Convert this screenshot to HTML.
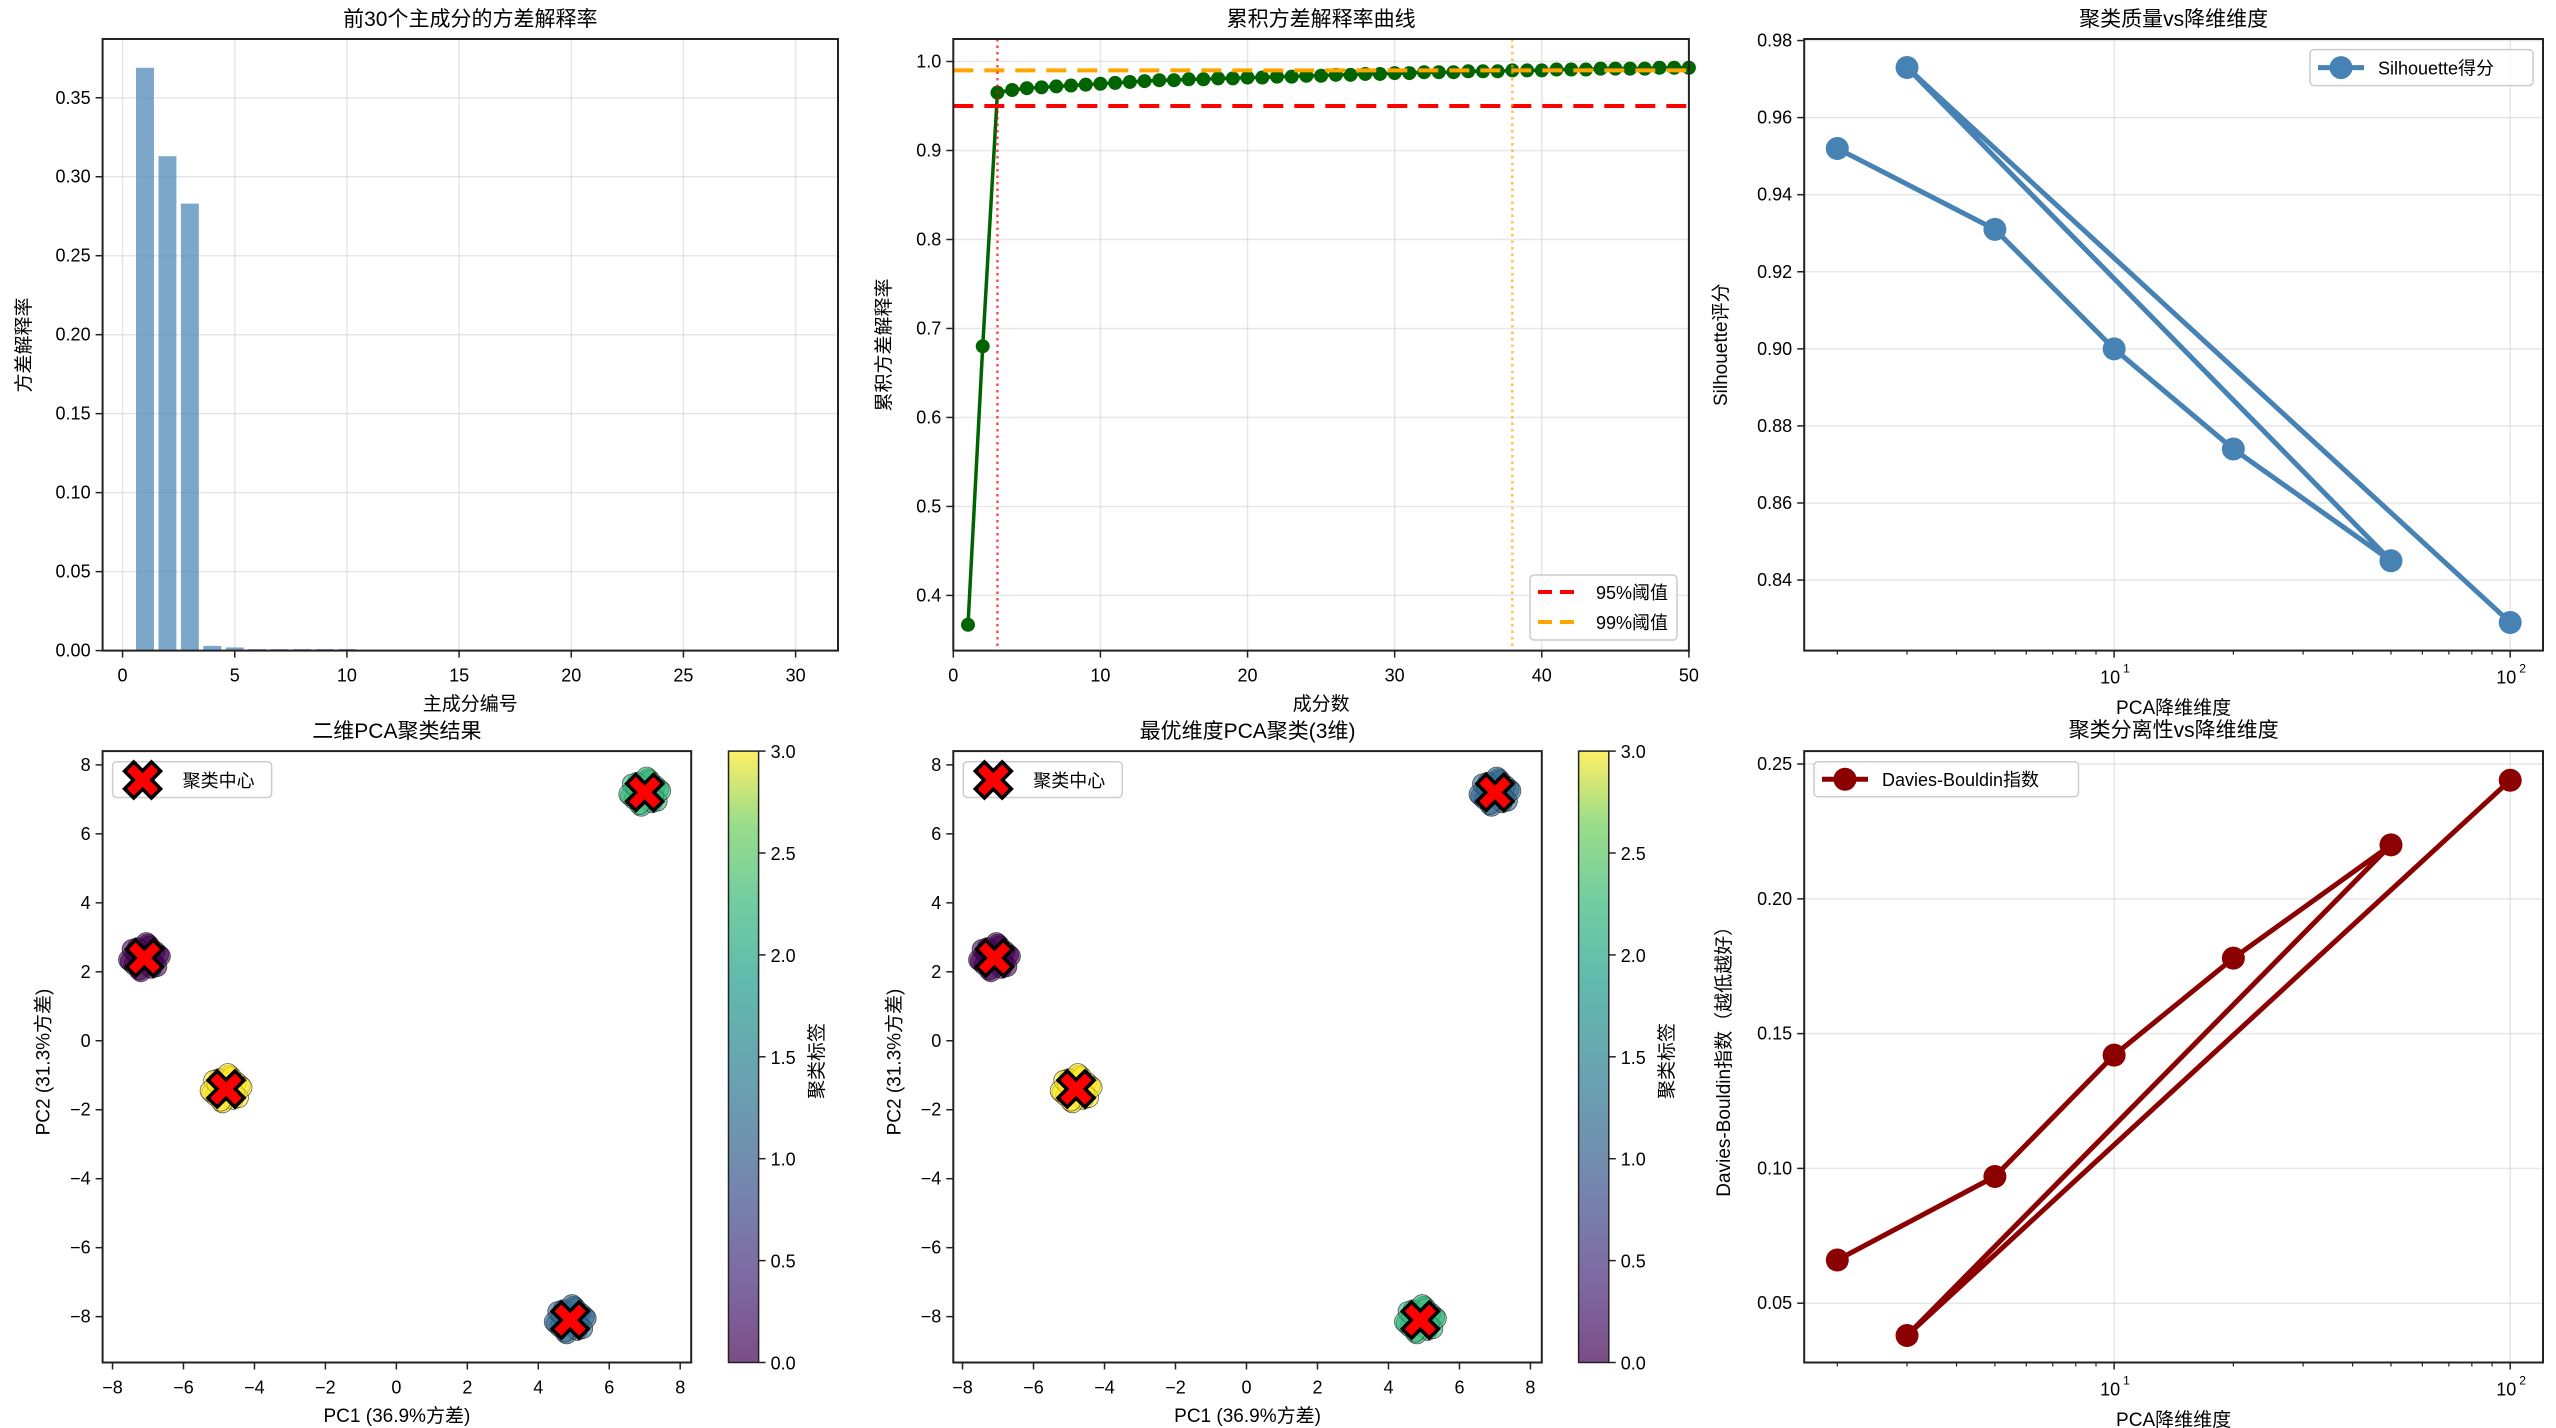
<!DOCTYPE html>
<html><head><meta charset="utf-8">
<style>
html,body{margin:0;padding:0;background:#fff;}
svg{display:block;font-family:"Liberation Sans","Noto Sans CJK SC",sans-serif;}
</style></head>
<body>
<svg id="fig" xmlns="http://www.w3.org/2000/svg" width="2556" height="1428" viewBox="0 0 2556 1428">
<defs>
<linearGradient id="viridis" x1="0" y1="1" x2="0" y2="0">
<stop offset="0" stop-color="#440154"/><stop offset="0.13" stop-color="#482878"/><stop offset="0.25" stop-color="#3e4989"/><stop offset="0.38" stop-color="#31688e"/><stop offset="0.5" stop-color="#26828e"/><stop offset="0.63" stop-color="#1f9e89"/><stop offset="0.75" stop-color="#35b779"/><stop offset="0.88" stop-color="#6ece58"/><stop offset="1" stop-color="#fde725"/>
</linearGradient>
</defs>
</svg>
<script>
// ---------- data ----------
const pcIndex = [1,2,3,4,5,6,7,8,9,10,11,12,13,14,15,16,17,18,19,20,21,22,23,24,25,26,27,28,29,30];
const varRatio = [0.369,0.313,0.283,0.003,0.002,0.001,0.001,0.001,0.001,0.001,0.0002,0.0002,0.0001,0.0001,0.0001,0.0001,0.0001,0.0001,0.0001,0.0001,0.0001,0.0001,0.0001,0.0001,0.0001,0.0001,0.0001,0.0001,0.0001,0.0001];
const cumVar = [0.367,0.680,0.965,0.968,0.970,0.971,0.972,0.973,0.974,0.975,0.976,0.977,0.978,0.979,0.979,0.980,0.980,0.981,0.981,0.982,0.982,0.983,0.983,0.984,0.984,0.985,0.985,0.986,0.986,0.987,0.987,0.988,0.988,0.988,0.989,0.989,0.989,0.990,0.990,0.990,0.991,0.991,0.991,0.992,0.992,0.992,0.992,0.993,0.993,0.993];
const thr95 = 0.95, thr99 = 0.99, n95 = 3, n99 = 38;
const dims = [2,5,10,20,50,3,100];
const silhouette = [0.952,0.931,0.900,0.874,0.845,0.973,0.829];
const dbIndex = [0.066,0.097,0.142,0.178,0.220,0.038,0.244];
const centers2d_x = [-7.1,4.9,7.0,-4.8];
const centers2d_y = [2.4,-8.1,7.2,-1.4];
const centers3d_x = [-7.1,7.0,4.9,-4.8];
const centers3d_y = [2.4,7.2,-8.1,-1.4];
const jitterX = [0.0,0.3,-0.3,0.2,-0.2,0.4,-0.4,0.1,-0.1,0.35,-0.35,0.15,-0.25,0.25,-0.15,0.45,-0.45,0.05];
const jitterY = [0.0,0.2,-0.2,-0.3,0.3,0.1,-0.1,0.4,-0.4,-0.25,0.25,0.35,0.15,-0.15,-0.35,0.05,-0.05,0.45];
const viridisCols = ['#440154','#31688e','#35b779','#fde725'];
const cbTicks = [0,0.5,1.0,1.5,2.0,2.5,3.0];

// ---------- helpers ----------
const NS='http://www.w3.org/2000/svg';
const fig=document.getElementById('fig');
function mk(tag,attrs,parent){const e=document.createElementNS(NS,tag);for(const k in attrs)e.setAttribute(k,attrs[k]);(parent||fig).appendChild(e);return e;}
function txt(s,x,y,size,anchor,parent,extra){const t=mk('text',Object.assign({x:x,y:y,'font-size':size,'text-anchor':anchor||'middle',fill:'#000'},extra||{}),parent);t.textContent=s;return t;}
function lin(a,b,p,q){return v=>p+(v-a)/(b-a)*(q-p);}
function logs(a,b,p,q){return v=>p+(Math.log10(v)-Math.log10(a))/(Math.log10(b)-Math.log10(a))*(q-p);}
function frame(L,T,R,B){const r=mk('rect',{x:L,y:T,width:R-L,height:B-T,fill:'none',stroke:'#222',"stroke-width":2});}
function grid(x1,y1,x2,y2){const l=mk('line',{x1:x1,y1:y1,x2:x2,y2:y2,stroke:'#b0b0b0','stroke-opacity':0.3,'stroke-width':1.5});}
function xtick(x,B,label,gridTop){ if(gridTop!==null)grid(x,gridTop,x,B);
 const t=mk('line',{x1:x,y1:B,x2:x,y2:B+7,stroke:'#222','stroke-width':1.5});
 if(label!==null){const l=txt(label,x,B+31,18);}}
function ytick(y,L,label,gridRight){ if(gridRight!==null)grid(L,y,gridRight,y);
 const t=mk('line',{x1:L-7,y1:y,x2:L,y2:y,stroke:'#222','stroke-width':1.5});
 const l=txt(label,L-12,y+6,18,'end');}
function title(s,x,y){const t=txt(s,x,y,21);}
function xlabel(s,x,y){const t=txt(s,x,y,19);}
function ylabel(s,x,y){const t=txt(s,0,0,19,'middle',fig,{transform:`translate(${x},${y}) rotate(-90)`});}
function xMarker(cx,cy,L,t,sw,parent){const p=`${t},${t} ${L},${t} ${L},${-t} ${t},${-t} ${t},${-L} ${-t},${-L} ${-t},${-t} ${-L},${-t} ${-L},${t} ${-t},${t} ${-t},${L} ${t},${L}`;
 return mk('polygon',{points:p,fill:'#ff0000',stroke:'#000','stroke-width':sw,'stroke-linejoin':'miter',transform:`translate(${cx},${cy}) rotate(45)`},parent);}
function logAxis(L,R,B,T,sx){
 [2,3,4,5,6,7,8,9,20,30,40,50,60,70,80,90].forEach(v=>{const x=sx(v);if(x<L||x>R)return;const m=mk('line',{x1:x,y1:B,x2:x,y2:B+4,stroke:'#222','stroke-width':1.2});});
 [10,100].forEach((v,i)=>{const x=sx(v);grid(x,T,x,B);const t=mk('line',{x1:x,y1:B,x2:x,y2:B+7,stroke:'#222','stroke-width':1.5});
  const l=txt('10',x-4,B+33,18);
  const s=txt(String(i+1),x+9,B+22,12,'start');});
}

// ---------- Panel 1: bars ----------
(function(){const L=102.6,R=838,T=39,B=650.6;const sx=lin(-0.89,31.89,L,R),sy=lin(0,0.3872,B,T);
 [0,5,10,15,20,25,30].forEach(v=>xtick(sx(v),B,String(v),T));
 [0,0.05,0.10,0.15,0.20,0.25,0.30,0.35].forEach(v=>ytick(sy(v),L,v.toFixed(2),R));
 pcIndex.forEach((k,i)=>{const x0=sx(k-0.4),x1=sx(k+0.4);const b=mk('rect',{x:x0,y:sy(varRatio[i]),width:x1-x0,height:B-sy(varRatio[i]),fill:'#4682b4','fill-opacity':0.7});
  
  });
 frame(L,T,R,B);title('前30个主成分的方差解释率',(L+R)/2,26);xlabel('主成分编号',(L+R)/2,710);ylabel('方差解释率',30,345);
})();

// ---------- Panel 2: cumulative ----------
(function(){const L=953.3,R=1688.9,T=39,B=650.6;const sx=lin(0,50,L,R),sy=lin(0.338,1.0253,B,T);
 [0,10,20,30,40,50].forEach(v=>xtick(sx(v),B,String(v),T));
 [0.4,0.5,0.6,0.7,0.8,0.9,1.0].forEach(v=>ytick(sy(v),L,v.toFixed(1),R));
 const g=mk('g',{});
 const pts=cumVar.map((v,i)=>sx(i+1)+','+sy(v)).join(' ');
 const pl=mk('polyline',{points:pts,fill:'none',stroke:'#006400','stroke-width':3.5},g);
 cumVar.forEach((v,i)=>{const c=mk('circle',{cx:sx(i+1),cy:sy(v),r:7,fill:'#006400'},g);});
 const h95=mk('line',{x1:L,y1:sy(thr95),x2:R,y2:sy(thr95),stroke:'#ff0000','stroke-width':4,'stroke-dasharray':'20 11'});
 const h99=mk('line',{x1:L,y1:sy(thr99),x2:R,y2:sy(thr99),stroke:'#ffa500','stroke-width':4,'stroke-dasharray':'20 11'});
 const v95=mk('line',{x1:sx(n95),y1:T,x2:sx(n95),y2:B,stroke:'#ff0000','stroke-opacity':0.7,'stroke-width':2.5,'stroke-dasharray':'2.5 4'});
 const v99=mk('line',{x1:sx(n99),y1:T,x2:sx(n99),y2:B,stroke:'#ffa500','stroke-opacity':0.7,'stroke-width':2.5,'stroke-dasharray':'2.5 4'});
 frame(L,T,R,B);
 const lg=mk('g',{});
 mk('rect',{x:1530,y:575,width:147,height:65,rx:4,fill:'#fff','fill-opacity':0.8,stroke:'#ccc','stroke-width':1.5},lg);
 mk('line',{x1:1538,y1:592,x2:1576,y2:592,stroke:'#ff0000','stroke-width':4,'stroke-dasharray':'14 8'},lg);
 mk('line',{x1:1538,y1:622,x2:1576,y2:622,stroke:'#ffa500','stroke-width':4,'stroke-dasharray':'14 8'},lg);
 const a=txt('95%阈值',1596,599,18,'start',lg);
 const b=txt('99%阈值',1596,629,18,'start',lg);
 title('累积方差解释率曲线',(L+R)/2,26);xlabel('成分数',(L+R)/2,710);ylabel('累积方差解释率',890,345);
})();

// ---------- line panels (3 and 6) ----------
function linePanel(L,R,T,B,ymin,ymax,yt,fmt,vals,color,legendTxt,lgBox,ttl,ttlY,xlY,yl,ylX){
 const sx=logs(1.65,121,L,R),sy=lin(ymin,ymax,B,T);
 logAxis(L,R,B,T,sx);
 yt.forEach(v=>ytick(sy(v),L,v.toFixed(fmt),R));
 const pts=dims.map((d,i)=>sx(d)+','+sy(vals[i])).join(' ');
 const pl=mk('polyline',{points:pts,fill:'none',stroke:color,'stroke-width':5,'stroke-linejoin':'round'});
 dims.forEach((d,i)=>{const c=mk('circle',{cx:sx(d),cy:sy(vals[i]),r:11.5,fill:color});});
 frame(L,T,R,B);
 const lg=mk('g',{});
 mk('rect',{x:lgBox[0],y:lgBox[1],width:lgBox[2],height:lgBox[3],rx:4,fill:'#fff','fill-opacity':0.8,stroke:'#ccc','stroke-width':1.5},lg);
 const cy=lgBox[1]+lgBox[3]/2;
 mk('line',{x1:lgBox[0]+8,y1:cy,x2:lgBox[0]+54,y2:cy,stroke:color,'stroke-width':5},lg);
 mk('circle',{cx:lgBox[0]+31,cy:cy,r:11.5,fill:color},lg);
 const t=txt(legendTxt,lgBox[0]+68,cy+7,18,'start',lg);
 title(ttl,(L+R)/2,ttlY);xlabel('PCA降维维度',(L+R)/2,xlY);ylabel(yl,ylX,(T+B)/2);
}
linePanel(1804.2,2543,39,650.6,0.8217,0.9804,[0.84,0.86,0.88,0.90,0.92,0.94,0.96,0.98],2,silhouette,'#4682b4','Silhouette得分',[2310,49.6,223,36],'聚类质量vs降维维度',26,714,'Silhouette评分',1727);
linePanel(1804.2,2543,751.1,1362.5,0.028,0.2548,[0.05,0.10,0.15,0.20,0.25],2,dbIndex,'#8b0000','Davies-Bouldin指数',[1814,761.7,264.5,35],'聚类分离性vs降维维度',737,1426,'Davies-Bouldin指数（越低越好）',1730);

// ---------- scatter panels (4 and 5) ----------
function scatterPanel(L,R,xmin,xmax,cbL,cbR,cbLabelX,cx,cy,ttl){
 const T=751.1,B=1362.5;const sx=lin(xmin,xmax,L,R),sy=lin(-9.33,8.40,B,T);
 [-8,-6,-4,-2,0,2,4,6,8].forEach(v=>xtick(sx(v),B,String(v).replace('-','−'),null));
 [-8,-6,-4,-2,0,2,4,6,8].forEach(v=>ytick(sy(v),L,String(v).replace('-','−'),null));
 cx.forEach((c,k)=>{const g=mk('g',{});
  const col=viridisCols[k];
  jitterX.forEach((jx,i)=>{const p=mk('circle',{cx:sx(c+jx),cy:sy(cy[k]+jitterY[i]),r:10,fill:col,'fill-opacity':0.6,stroke:'#000','stroke-opacity':0.6,'stroke-width':0.8},g);
   
   });});
 cx.forEach((c,k)=>{const m=xMarker(sx(c),sy(cy[k]),19,6.5,3.5);});
 frame(L,T,R,B);
 const lg=mk('g',{});
 mk('rect',{x:L+10,y:761.7,width:159,height:35.8,rx:4,fill:'#fff','fill-opacity':0.8,stroke:'#ccc','stroke-width':1.5},lg);
 xMarker(L+40,780,19,6.5,3.5,lg);
 const lt=txt('聚类中心',L+80,787,18,'start',lg);
 const cb=mk('rect',{x:cbL,y:T,width:cbR-cbL,height:B-T,fill:'url(#viridis)','fill-opacity':0.7,stroke:'#222','stroke-width':1.5});
 const cs=lin(0,3,B,T);
 cbTicks.forEach(v=>{const y=cs(v);const t=mk('line',{x1:cbR,y1:y,x2:cbR+7,y2:y,stroke:'#222','stroke-width':1.5});
  const l=txt(v.toFixed(1),cbR+12,y+7,18,'start');});
 const cl=txt('聚类标签',0,0,19,'middle',fig,{transform:`translate(${cbLabelX},1061) rotate(-90)`});
 title(ttl,(L+R)/2,738);xlabel('PC1 (36.9%方差)',(L+R)/2,1422);ylabel('PC2 (31.3%方差)',L-53,1062);
}
scatterPanel(102.6,691.2,-8.28,8.31,728.5,758.6,823,centers2d_x,centers2d_y,'二维PCA聚类结果');
scatterPanel(953.3,1541.8,-8.26,8.32,1578.6,1608.8,1673,centers3d_x,centers3d_y,'最优维度PCA聚类(3维)');
</script>
</body></html>
